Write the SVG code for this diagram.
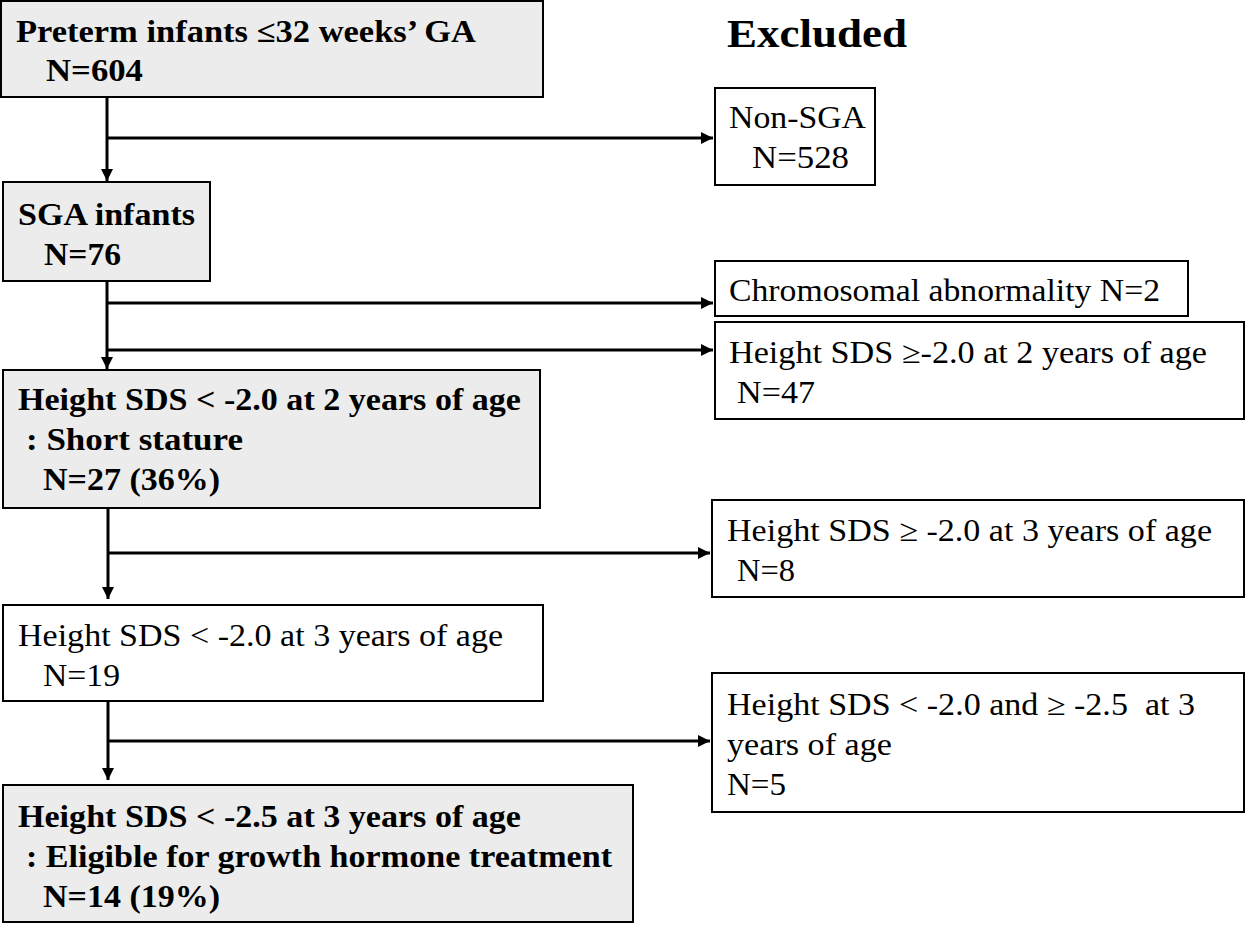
<svg xmlns="http://www.w3.org/2000/svg" width="1246" height="925" viewBox="0 0 1246 925">
<style>
.g{fill:#ececec;stroke:#000;stroke-width:2}
.w{fill:#fff;stroke:#000;stroke-width:2}
text{font-family:"Liberation Serif","Times New Roman",serif;font-size:31px;fill:#000}
.b{font-weight:bold}
.c{stroke:#000;stroke-width:3;fill:none}
</style>
<defs>
<marker id="ah" viewBox="0 0 10 10" refX="10" refY="5" markerWidth="4" markerHeight="4" orient="auto" markerUnits="strokeWidth">
<path d="M0,0 L10,5 L0,10 z" fill="#000"/>
</marker>
</defs>
<rect width="1246" height="925" fill="#fff"/>
<text class="b" x="727" y="47" style="font-size:39px" textLength="180" lengthAdjust="spacingAndGlyphs">Excluded</text>
<g id="n1"><rect class="g" x="1" y="1" width="542" height="96"/>
<text class="b" x="16" y="42" textLength="460" lengthAdjust="spacingAndGlyphs">Preterm infants ≤32 weeks’ GA</text>
<text class="b" x="46" y="81" textLength="97" lengthAdjust="spacingAndGlyphs">N=604</text></g>
<g id="n2"><rect class="w" x="715" y="88" width="160" height="97"/>
<text x="729" y="128" textLength="137" lengthAdjust="spacingAndGlyphs">Non-SGA</text>
<text x="752" y="168" textLength="97" lengthAdjust="spacingAndGlyphs">N=528</text></g>
<g id="n3"><rect class="g" x="3" y="182" width="207" height="99"/>
<text class="b" x="18" y="225" textLength="177" lengthAdjust="spacingAndGlyphs">SGA infants</text>
<text class="b" x="44" y="265" textLength="77" lengthAdjust="spacingAndGlyphs">N=76</text></g>
<g id="n4"><rect class="w" x="715" y="261" width="473" height="55"/>
<text x="729" y="301" textLength="431" lengthAdjust="spacingAndGlyphs">Chromosomal abnormality N=2</text></g>
<g id="n5"><rect class="w" x="715" y="322" width="529" height="97"/>
<text x="729" y="363" textLength="478" lengthAdjust="spacingAndGlyphs">Height SDS ≥-2.0 at 2 years of age</text>
<text x="737" y="403" textLength="78" lengthAdjust="spacingAndGlyphs">N=47</text></g>
<g id="n6"><rect class="g" x="3" y="370" width="537" height="138"/>
<text class="b" x="18" y="410" textLength="503" lengthAdjust="spacingAndGlyphs">Height SDS &lt; -2.0 at 2 years of age</text>
<text class="b" x="26" y="450" textLength="217" lengthAdjust="spacingAndGlyphs">: Short stature</text>
<text class="b" x="43" y="490" textLength="177" lengthAdjust="spacingAndGlyphs">N=27 (36%)</text></g>
<g id="n7"><rect class="w" x="712" y="500" width="532" height="97"/>
<text x="727" y="541" textLength="485" lengthAdjust="spacingAndGlyphs">Height SDS ≥ -2.0 at 3 years of age</text>
<text x="737" y="581" textLength="58" lengthAdjust="spacingAndGlyphs">N=8</text></g>
<g id="n8"><rect class="w" x="3" y="605" width="540" height="96"/>
<text x="18" y="646" textLength="485" lengthAdjust="spacingAndGlyphs">Height SDS &lt; -2.0 at 3 years of age</text>
<text x="43" y="686" textLength="77" lengthAdjust="spacingAndGlyphs">N=19</text></g>
<g id="n9"><rect class="w" x="712" y="673" width="532" height="139"/>
<text x="727" y="715" textLength="468" lengthAdjust="spacingAndGlyphs" xml:space="preserve">Height SDS &lt; -2.0 and ≥ -2.5  at 3</text>
<text x="727" y="755" textLength="165" lengthAdjust="spacingAndGlyphs">years of age</text>
<text x="727" y="795" textLength="59" lengthAdjust="spacingAndGlyphs">N=5</text></g>
<g id="n10"><rect class="g" x="3" y="785" width="630" height="137"/>
<text class="b" x="18" y="827" textLength="503" lengthAdjust="spacingAndGlyphs">Height SDS &lt; -2.5 at 3 years of age</text>
<text class="b" x="26" y="867" textLength="586" lengthAdjust="spacingAndGlyphs">: Eligible for growth hormone treatment</text>
<text class="b" x="43" y="907" textLength="177" lengthAdjust="spacingAndGlyphs">N=14 (19%)</text></g>
<g id="connectors">
<line class="c" x1="107" y1="98" x2="107" y2="181" marker-end="url(#ah)"/>
<line class="c" x1="107" y1="138" x2="713" y2="138" marker-end="url(#ah)"/>
<line class="c" x1="107" y1="282" x2="107" y2="369" marker-end="url(#ah)"/>
<line class="c" x1="107" y1="303" x2="713" y2="303" marker-end="url(#ah)"/>
<line class="c" x1="107" y1="350" x2="713" y2="350" marker-end="url(#ah)"/>
<line class="c" x1="108" y1="509" x2="108" y2="599" marker-end="url(#ah)"/>
<line class="c" x1="108" y1="553" x2="710" y2="553" marker-end="url(#ah)"/>
<line class="c" x1="108" y1="702" x2="108" y2="780" marker-end="url(#ah)"/>
<line class="c" x1="108" y1="741" x2="710" y2="741" marker-end="url(#ah)"/>
</g>
</svg>
